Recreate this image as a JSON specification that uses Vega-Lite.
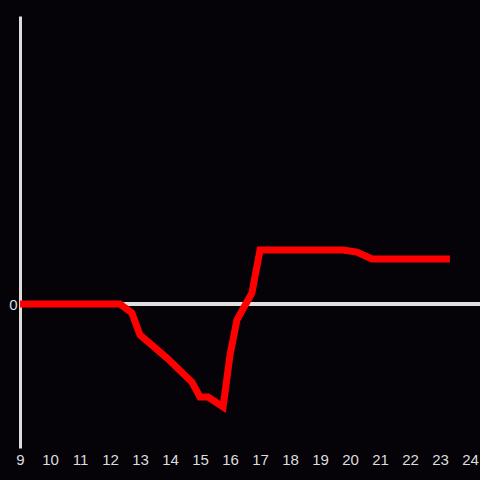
{
  "$schema": "https://vega.github.io/schema/vega-lite/v6.json",
  "width": 460,
  "height": 432,
  "autosize": {"type": "none"},
  "padding": {"left": 20, "top": 16, "right": 0, "bottom": 32},
  "background": "#050308",
  "config": {
    "view": {"stroke": null},
    "axis": {"grid": false, "labelFont": "Liberation Sans", "labelFontSize": 15, "labelColor": "#dddddd"}
  },
  "data": {"values": [
    {"t": 9.0, "v": 0},
    {"t": 12.33, "v": 0},
    {"t": 12.73, "v": -0.0625},
    {"t": 13.0, "v": -0.215},
    {"t": 13.9, "v": -0.375},
    {"t": 14.73, "v": -0.542},
    {"t": 15.0, "v": -0.646},
    {"t": 15.27, "v": -0.646},
    {"t": 15.77, "v": -0.715},
    {"t": 16.0, "v": -0.354},
    {"t": 16.23, "v": -0.111},
    {"t": 16.73, "v": 0.076},
    {"t": 17.0, "v": 0.375},
    {"t": 19.77, "v": 0.375},
    {"t": 20.23, "v": 0.361},
    {"t": 20.73, "v": 0.313},
    {"t": 23.33, "v": 0.313}
  ]},
  "layer": [
    {
      "mark": {"type": "rule", "color": "#e0e0e0", "strokeWidth": 3},
      "encoding": {"y": {"datum": 0, "type": "quantitative", "scale": {"domain": [-1, 2]}}}
    },
    {
      "mark": {"type": "line", "color": "#ff0000", "strokeWidth": 7, "strokeJoin": "miter", "strokeCap": "butt"},
      "encoding": {
        "x": {"field": "t", "type": "quantitative", "scale": {"domain": [9, 24.333], "nice": false, "zero": false},
              "axis": {"title": null, "values": [9,10,11,12,13,14,15,16,17,18,19,20,21,22,23,24], "domain": false, "ticks": false, "labelPadding": 4, "labelFlush": false}},
        "y": {"field": "v", "type": "quantitative", "scale": {"domain": [-1, 2], "nice": false},
              "axis": {"title": null, "values": [0], "format": "d", "ticks": false, "domainColor": "#dddddd", "domainWidth": 3, "labelPadding": 3}}
      }
    }
  ]
}
